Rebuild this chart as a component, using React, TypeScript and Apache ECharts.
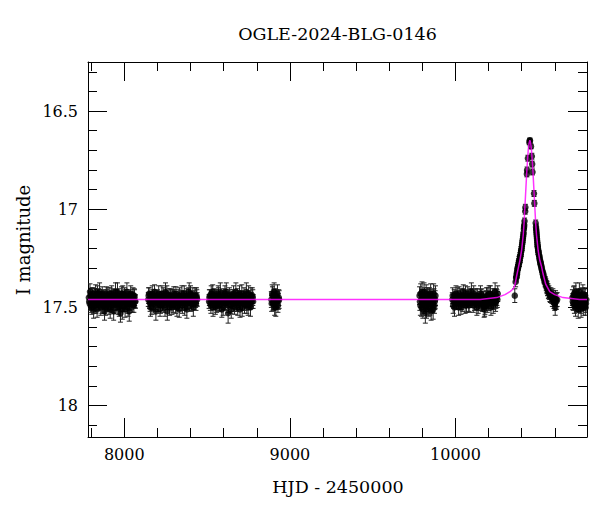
import { useEffect, useRef } from "react";
import * as echarts from "echarts";

// Observations: [HJD - 2450000, I magnitude, error]
const season2017: number[][] = [
  [7786, 17.45, 0.03], [7788, 17.47, 0.035], [7791, 17.48, 0.035], [7793, 17.42, 0.04], [7795, 17.44, 0.03],
  [7797, 17.49, 0.035], [7800, 17.47, 0.04], [7802, 17.45, 0.03], [7804, 17.5, 0.035], [7806, 17.44, 0.04],
  [7809, 17.43, 0.03], [7811, 17.48, 0.035], [7813, 17.46, 0.03], [7815, 17.51, 0.045], [7818, 17.49, 0.04],
  [7820, 17.46, 0.03], [7822, 17.45, 0.03], [7824, 17.44, 0.035], [7827, 17.42, 0.035], [7829, 17.49, 0.04],
  [7831, 17.47, 0.03], [7833, 17.45, 0.03], [7836, 17.51, 0.04], [7838, 17.43, 0.04], [7840, 17.46, 0.03],
  [7842, 17.48, 0.035], [7845, 17.44, 0.035], [7847, 17.46, 0.03], [7849, 17.48, 0.03], [7851, 17.42, 0.045],
  [7854, 17.45, 0.03], [7856, 17.47, 0.035], [7858, 17.5, 0.04], [7860, 17.45, 0.03], [7863, 17.47, 0.03],
  [7865, 17.49, 0.04], [7867, 17.43, 0.035], [7869, 17.46, 0.035], [7872, 17.46, 0.03], [7874, 17.44, 0.03],
  [7877, 17.49, 0.04], [7879, 17.47, 0.04], [7881, 17.52, 0.045], [7883, 17.45, 0.035], [7886, 17.45, 0.03],
  [7888, 17.5, 0.04], [7890, 17.47, 0.035], [7892, 17.43, 0.035], [7895, 17.44, 0.03], [7897, 17.46, 0.03],
  [7899, 17.48, 0.04], [7901, 17.44, 0.04], [7904, 17.46, 0.03], [7906, 17.48, 0.035], [7908, 17.5, 0.035],
  [7910, 17.46, 0.03], [7913, 17.43, 0.03], [7915, 17.51, 0.045], [7918, 17.47, 0.04], [7920, 17.45, 0.035],
  [7922, 17.45, 0.03], [7924, 17.43, 0.04], [7927, 17.49, 0.035], [7929, 17.47, 0.03], [7931, 17.46, 0.03],
  [7933, 17.44, 0.035], [7936, 17.52, 0.045], [7938, 17.49, 0.04], [7940, 17.44, 0.03], [7942, 17.46, 0.03],
  [7945, 17.48, 0.035], [7947, 17.42, 0.045], [7950, 17.45, 0.04], [7952, 17.48, 0.035], [7954, 17.47, 0.03],
  [7956, 17.45, 0.03], [7959, 17.42, 0.045], [7961, 17.47, 0.04], [7963, 17.5, 0.035], [7966, 17.44, 0.035],
  [7968, 17.46, 0.03], [7970, 17.5, 0.045], [7973, 17.48, 0.04], [7975, 17.46, 0.03], [7977, 17.53, 0.045],
  [7979, 17.48, 0.04], [7982, 17.45, 0.03], [7984, 17.43, 0.035], [7986, 17.47, 0.035], [7988, 17.51, 0.05],
  [7991, 17.43, 0.04], [7993, 17.45, 0.03], [7996, 17.49, 0.03], [7998, 17.47, 0.035], [8000, 17.46, 0.035],
  [8002, 17.44, 0.04], [8005, 17.51, 0.04], [8007, 17.48, 0.03], [8009, 17.44, 0.03], [8011, 17.46, 0.035],
  [8014, 17.47, 0.035], [8016, 17.42, 0.045], [8019, 17.45, 0.03], [8021, 17.49, 0.04], [8023, 17.5, 0.045],
  [8025, 17.45, 0.03], [8028, 17.46, 0.03], [8030, 17.52, 0.05], [8033, 17.48, 0.035], [8035, 17.46, 0.035],
  [8037, 17.44, 0.03], [8039, 17.43, 0.04], [8042, 17.47, 0.04], [8044, 17.48, 0.03], [8047, 17.45, 0.03],
  [8049, 17.46, 0.035], [8051, 17.49, 0.035], [8053, 17.44, 0.04], [8056, 17.46, 0.03], [8058, 17.49, 0.035],
  [8060, 17.44, 0.035], [8062, 17.45, 0.04], [8065, 17.47, 0.03], [8067, 17.47, 0.035],
];
const season2018: number[][] = [
  [8145, 17.46, 0.035], [8147, 17.44, 0.04], [8150, 17.43, 0.03], [8153, 17.47, 0.035], [8156, 17.48, 0.04],
  [8158, 17.5, 0.045], [8161, 17.45, 0.03], [8164, 17.46, 0.03], [8167, 17.5, 0.035], [8169, 17.43, 0.04],
  [8172, 17.44, 0.03], [8175, 17.48, 0.035], [8178, 17.47, 0.04], [8180, 17.45, 0.03], [8183, 17.42, 0.035],
  [8186, 17.47, 0.04], [8189, 17.49, 0.03], [8191, 17.52, 0.045], [8194, 17.46, 0.035], [8197, 17.45, 0.035],
  [8200, 17.44, 0.03], [8202, 17.47, 0.03], [8205, 17.48, 0.04], [8208, 17.43, 0.04], [8211, 17.45, 0.03],
  [8213, 17.46, 0.035], [8216, 17.51, 0.035], [8219, 17.49, 0.04], [8222, 17.47, 0.03], [8224, 17.45, 0.03],
  [8227, 17.43, 0.04], [8230, 17.48, 0.035], [8233, 17.46, 0.03], [8235, 17.44, 0.04], [8238, 17.49, 0.035],
  [8241, 17.47, 0.03], [8244, 17.45, 0.03], [8246, 17.5, 0.045], [8249, 17.42, 0.045], [8252, 17.45, 0.035],
  [8255, 17.47, 0.03], [8257, 17.43, 0.04], [8260, 17.52, 0.045], [8263, 17.48, 0.03], [8266, 17.46, 0.03],
  [8268, 17.46, 0.035], [8271, 17.44, 0.035], [8274, 17.5, 0.04], [8277, 17.48, 0.03], [8279, 17.44, 0.035],
  [8282, 17.45, 0.04], [8285, 17.47, 0.03], [8288, 17.5, 0.035], [8290, 17.45, 0.04], [8293, 17.47, 0.03],
  [8296, 17.49, 0.035], [8299, 17.43, 0.035], [8301, 17.44, 0.03], [8304, 17.46, 0.03], [8307, 17.47, 0.04],
  [8310, 17.49, 0.04], [8312, 17.43, 0.035], [8315, 17.45, 0.03], [8318, 17.5, 0.045], [8321, 17.47, 0.035],
  [8323, 17.46, 0.03], [8326, 17.44, 0.03], [8329, 17.48, 0.035], [8332, 17.51, 0.04], [8334, 17.44, 0.04],
  [8337, 17.46, 0.03], [8340, 17.47, 0.03], [8343, 17.48, 0.035], [8345, 17.45, 0.035], [8348, 17.43, 0.04],
  [8351, 17.49, 0.04], [8354, 17.47, 0.03], [8356, 17.46, 0.03], [8359, 17.45, 0.035], [8362, 17.43, 0.04],
  [8365, 17.5, 0.04], [8367, 17.48, 0.035], [8370, 17.46, 0.03], [8373, 17.45, 0.03], [8376, 17.44, 0.035],
  [8378, 17.51, 0.045], [8381, 17.48, 0.03], [8384, 17.47, 0.035], [8387, 17.45, 0.04], [8389, 17.44, 0.04],
  [8392, 17.42, 0.045], [8395, 17.46, 0.03], [8398, 17.47, 0.035], [8400, 17.43, 0.04], [8403, 17.49, 0.03],
  [8406, 17.48, 0.035], [8409, 17.46, 0.035], [8411, 17.45, 0.03], [8414, 17.44, 0.04], [8417, 17.5, 0.045],
  [8420, 17.48, 0.03], [8422, 17.46, 0.035], [8425, 17.45, 0.035], [8428, 17.44, 0.04], [8431, 17.47, 0.03],
  [8433, 17.48, 0.035], [8436, 17.44, 0.04], [8438, 17.45, 0.04], [8440, 17.46, 0.035],
];
const season2019: number[][] = [
  [8512, 17.47, 0.035], [8514, 17.45, 0.04], [8517, 17.44, 0.03], [8520, 17.48, 0.035], [8523, 17.49, 0.04],
  [8525, 17.43, 0.04], [8528, 17.45, 0.03], [8531, 17.47, 0.03], [8534, 17.42, 0.035], [8536, 17.5, 0.045],
  [8539, 17.48, 0.03], [8542, 17.44, 0.035], [8545, 17.46, 0.04], [8547, 17.47, 0.03], [8550, 17.5, 0.035],
  [8553, 17.45, 0.04], [8556, 17.44, 0.03], [8558, 17.49, 0.035], [8561, 17.47, 0.035], [8564, 17.46, 0.03],
  [8567, 17.43, 0.04], [8569, 17.44, 0.04], [8572, 17.49, 0.03], [8575, 17.48, 0.035], [8578, 17.46, 0.035],
  [8580, 17.42, 0.045], [8583, 17.45, 0.03], [8586, 17.47, 0.03], [8589, 17.51, 0.04], [8591, 17.45, 0.035],
  [8594, 17.47, 0.03], [8597, 17.5, 0.04], [8600, 17.44, 0.035], [8602, 17.46, 0.03], [8605, 17.48, 0.03],
  [8608, 17.43, 0.04], [8611, 17.45, 0.04], [8613, 17.48, 0.035], [8616, 17.42, 0.045], [8619, 17.45, 0.03],
  [8622, 17.47, 0.03], [8624, 17.47, 0.04], [8627, 17.53, 0.05], [8630, 17.49, 0.035], [8633, 17.46, 0.035],
  [8635, 17.44, 0.04], [8638, 17.44, 0.03], [8641, 17.47, 0.03], [8644, 17.49, 0.04], [8646, 17.51, 0.045],
  [8649, 17.45, 0.03], [8652, 17.46, 0.035], [8655, 17.47, 0.035], [8657, 17.44, 0.03], [8660, 17.43, 0.04],
  [8663, 17.48, 0.04], [8666, 17.5, 0.035], [8668, 17.45, 0.035], [8671, 17.46, 0.03], [8674, 17.42, 0.045],
  [8677, 17.48, 0.04], [8679, 17.47, 0.03], [8682, 17.44, 0.035], [8685, 17.5, 0.04], [8688, 17.47, 0.03],
  [8690, 17.46, 0.035], [8693, 17.45, 0.035], [8696, 17.43, 0.04], [8699, 17.51, 0.04], [8701, 17.48, 0.03],
  [8704, 17.46, 0.03], [8707, 17.45, 0.035], [8710, 17.43, 0.045], [8712, 17.5, 0.045], [8715, 17.48, 0.035],
  [8718, 17.46, 0.03], [8721, 17.45, 0.03], [8723, 17.44, 0.04], [8726, 17.49, 0.04], [8729, 17.48, 0.035],
  [8732, 17.46, 0.035], [8734, 17.45, 0.03], [8737, 17.42, 0.045], [8740, 17.49, 0.04], [8743, 17.47, 0.03],
  [8745, 17.46, 0.035], [8748, 17.5, 0.04], [8751, 17.43, 0.04], [8754, 17.45, 0.035], [8756, 17.47, 0.03],
  [8759, 17.48, 0.03], [8762, 17.5, 0.045], [8765, 17.44, 0.04], [8767, 17.46, 0.035], [8770, 17.47, 0.035],
  [8773, 17.44, 0.04], [8776, 17.45, 0.04], [8778, 17.47, 0.035],
];
const season2020: number[][] = [
  [8888, 17.46, 0.04], [8890, 17.48, 0.04], [8893, 17.43, 0.045], [8895, 17.44, 0.045], [8898, 17.48, 0.035],
  [8900, 17.47, 0.04], [8903, 17.45, 0.04], [8905, 17.42, 0.045], [8908, 17.5, 0.04], [8910, 17.46, 0.04],
  [8913, 17.44, 0.035], [8915, 17.5, 0.045], [8918, 17.47, 0.04], [8920, 17.45, 0.04], [8923, 17.46, 0.045],
  [8925, 17.43, 0.045], [8928, 17.49, 0.035], [8930, 17.47, 0.04], [8933, 17.45, 0.04], [8935, 17.46, 0.045],
];
const season2022: number[][] = [
  [9783, 17.44, 0.045], [9785, 17.47, 0.045], [9788, 17.49, 0.05], [9790, 17.43, 0.05], [9793, 17.46, 0.04],
  [9795, 17.5, 0.045], [9798, 17.42, 0.05], [9800, 17.45, 0.04], [9803, 17.51, 0.045], [9805, 17.48, 0.05],
  [9808, 17.47, 0.04], [9810, 17.42, 0.045], [9813, 17.45, 0.05], [9815, 17.49, 0.04], [9818, 17.53, 0.05],
  [9820, 17.46, 0.05], [9823, 17.43, 0.045], [9825, 17.51, 0.045], [9828, 17.48, 0.04], [9830, 17.44, 0.04],
  [9833, 17.46, 0.05], [9835, 17.47, 0.05], [9838, 17.5, 0.045], [9840, 17.45, 0.045], [9843, 17.44, 0.04],
  [9845, 17.5, 0.04], [9848, 17.47, 0.05], [9850, 17.43, 0.05], [9853, 17.52, 0.045], [9855, 17.48, 0.045],
  [9858, 17.45, 0.04], [9860, 17.46, 0.04], [9863, 17.48, 0.045], [9865, 17.51, 0.05], [9868, 17.43, 0.05],
  [9870, 17.45, 0.045], [9873, 17.49, 0.04], [9875, 17.47, 0.04], [9877, 17.46, 0.045], [9879, 17.44, 0.05],
];
const season2023: number[][] = [
  [9981, 17.46, 0.035], [9983, 17.44, 0.04], [9986, 17.49, 0.04], [9989, 17.47, 0.035], [9992, 17.44, 0.03],
  [9994, 17.5, 0.045], [9997, 17.47, 0.035], [10000, 17.45, 0.03], [10003, 17.43, 0.04], [10005, 17.47, 0.035],
  [10008, 17.48, 0.03], [10011, 17.44, 0.04], [10014, 17.45, 0.035], [10016, 17.48, 0.03], [10019, 17.5, 0.04],
  [10022, 17.43, 0.035], [10025, 17.46, 0.03], [10027, 17.47, 0.04], [10030, 17.44, 0.035], [10033, 17.5, 0.035],
  [10036, 17.48, 0.03], [10038, 17.46, 0.03], [10041, 17.45, 0.04], [10044, 17.48, 0.04], [10047, 17.42, 0.035],
  [10049, 17.44, 0.035], [10052, 17.47, 0.03], [10055, 17.46, 0.03], [10058, 17.49, 0.04], [10060, 17.43, 0.04],
  [10063, 17.45, 0.035], [10066, 17.49, 0.035], [10069, 17.47, 0.03], [10071, 17.46, 0.03], [10074, 17.43, 0.035],
  [10077, 17.45, 0.04], [10080, 17.48, 0.04], [10082, 17.49, 0.035], [10085, 17.46, 0.03], [10088, 17.47, 0.03],
  [10091, 17.44, 0.035], [10093, 17.45, 0.04], [10096, 17.42, 0.045], [10099, 17.44, 0.035], [10102, 17.47, 0.03],
  [10104, 17.46, 0.03], [10107, 17.49, 0.035], [10110, 17.43, 0.04], [10113, 17.45, 0.04], [10115, 17.48, 0.035],
  [10118, 17.47, 0.03], [10121, 17.46, 0.03], [10124, 17.44, 0.035], [10126, 17.47, 0.04], [10129, 17.5, 0.04],
  [10132, 17.44, 0.035], [10135, 17.46, 0.03], [10137, 17.49, 0.04], [10140, 17.48, 0.035], [10143, 17.46, 0.03],
  [10146, 17.45, 0.03], [10148, 17.48, 0.035], [10151, 17.43, 0.04], [10154, 17.45, 0.04], [10157, 17.47, 0.035],
  [10159, 17.44, 0.035], [10162, 17.49, 0.03], [10165, 17.48, 0.03], [10168, 17.46, 0.04], [10170, 17.46, 0.04],
  [10173, 17.51, 0.04], [10176, 17.5, 0.045], [10178, 17.49, 0.045], [10181, 17.47, 0.035], [10184, 17.45, 0.035],
  [10187, 17.44, 0.04], [10189, 17.47, 0.03], [10192, 17.49, 0.035], [10195, 17.44, 0.04], [10198, 17.45, 0.03],
  [10200, 17.48, 0.035], [10203, 17.43, 0.04], [10206, 17.46, 0.03], [10209, 17.47, 0.035], [10211, 17.43, 0.04],
  [10214, 17.5, 0.04], [10217, 17.47, 0.035], [10220, 17.46, 0.03], [10222, 17.45, 0.03], [10225, 17.44, 0.035],
  [10228, 17.49, 0.04], [10231, 17.47, 0.04], [10233, 17.44, 0.035], [10236, 17.45, 0.035], [10239, 17.42, 0.045],
  [10242, 17.48, 0.04], [10244, 17.47, 0.035], [10247, 17.44, 0.035], [10250, 17.45, 0.04], [10253, 17.46, 0.04],
  [10255, 17.43, 0.04],
];
const season2024: number[][] = [
  [10358, 17.44, 0.035], [10363, 17.37, 0.025], [10366, 17.35, 0.02], [10367, 17.345, 0.02], [10369, 17.34, 0.02],
  [10370, 17.33, 0.02], [10371, 17.32, 0.02], [10372, 17.33, 0.02], [10374, 17.31, 0.02], [10375, 17.3, 0.02],
  [10377, 17.3, 0.02], [10378, 17.29, 0.02], [10380, 17.29, 0.02], [10381, 17.28, 0.02], [10383, 17.27, 0.02],
  [10384, 17.26, 0.02], [10386, 17.27, 0.02], [10387, 17.26, 0.02], [10389, 17.25, 0.02], [10390, 17.24, 0.02],
  [10392, 17.24, 0.02], [10393, 17.23, 0.02], [10395, 17.22, 0.02], [10396, 17.21, 0.02], [10398, 17.21, 0.02],
  [10399, 17.2, 0.02], [10401, 17.19, 0.02], [10402, 17.18, 0.02], [10404, 17.17, 0.02], [10405, 17.16, 0.02],
  [10407, 17.15, 0.02], [10408, 17.14, 0.02], [10410, 17.13, 0.02], [10411, 17.12, 0.02], [10413, 17.1, 0.02],
  [10414, 17.09, 0.02], [10415, 17.08, 0.02], [10417, 17.06, 0.015], [10421, 17.01, 0.015], [10422, 16.99, 0.015],
  [10431, 16.82, 0.015], [10432, 16.8, 0.015], [10437, 16.74, 0.015], [10446, 16.66, 0.012], [10448, 16.65, 0.012],
  [10450, 16.65, 0.012], [10456, 16.68, 0.012], [10461, 16.73, 0.015], [10463, 16.77, 0.015], [10465, 16.81, 0.015],
  [10474, 16.92, 0.015], [10476, 16.97, 0.015], [10484, 17.07, 0.015], [10486, 17.09, 0.015], [10487, 17.1, 0.02],
  [10488, 17.11, 0.02], [10489, 17.12, 0.02], [10490, 17.13, 0.02], [10491, 17.14, 0.02], [10492, 17.15, 0.02],
  [10493, 17.16, 0.02], [10494, 17.17, 0.02], [10495, 17.18, 0.02], [10496, 17.19, 0.02], [10497, 17.19, 0.02],
  [10498, 17.2, 0.02], [10499, 17.21, 0.02], [10500, 17.21, 0.02], [10501, 17.22, 0.02], [10503, 17.23, 0.02],
  [10505, 17.235, 0.02], [10506, 17.24, 0.02], [10508, 17.25, 0.02], [10509, 17.26, 0.02], [10511, 17.265, 0.02],
  [10512, 17.27, 0.02], [10514, 17.275, 0.02], [10515, 17.28, 0.02], [10517, 17.285, 0.02], [10518, 17.29, 0.02],
  [10520, 17.3, 0.02], [10522, 17.31, 0.02], [10524, 17.315, 0.02], [10526, 17.32, 0.02], [10528, 17.33, 0.02],
  [10530, 17.34, 0.02], [10532, 17.345, 0.025], [10534, 17.35, 0.025], [10536, 17.355, 0.025], [10538, 17.36, 0.025],
  [10541, 17.37, 0.025], [10543, 17.37, 0.025], [10546, 17.38, 0.025], [10548, 17.39, 0.025], [10551, 17.395, 0.03],
  [10553, 17.4, 0.03], [10556, 17.41, 0.03], [10558, 17.41, 0.03], [10561, 17.425, 0.03], [10564, 17.42, 0.03],
  [10567, 17.43, 0.03], [10570, 17.44, 0.03], [10573, 17.445, 0.03], [10576, 17.43, 0.03], [10579, 17.44, 0.03],
  [10582, 17.45, 0.03], [10585, 17.46, 0.035], [10588, 17.44, 0.035], [10591, 17.45, 0.035], [10594, 17.47, 0.035],
  [10596, 17.46, 0.035], [10599, 17.48, 0.035], [10602, 17.5, 0.04], [10604, 17.45, 0.035], [10607, 17.46, 0.035],
  [10609, 17.47, 0.04], [10614, 17.46, 0.035],
];
const season2025: number[][] = [
  [10706, 17.45, 0.04], [10708, 17.47, 0.04], [10711, 17.48, 0.035], [10713, 17.44, 0.045], [10716, 17.43, 0.04],
  [10718, 17.49, 0.04], [10720, 17.47, 0.035], [10722, 17.45, 0.035], [10725, 17.5, 0.045], [10727, 17.42, 0.045],
  [10730, 17.44, 0.035], [10732, 17.48, 0.04], [10734, 17.46, 0.04], [10737, 17.46, 0.035], [10739, 17.49, 0.035],
  [10741, 17.51, 0.045], [10744, 17.45, 0.04], [10746, 17.47, 0.04], [10748, 17.42, 0.045], [10751, 17.44, 0.035],
  [10753, 17.47, 0.035], [10755, 17.49, 0.04], [10758, 17.51, 0.04], [10760, 17.45, 0.045], [10762, 17.46, 0.035],
  [10765, 17.47, 0.04], [10767, 17.44, 0.04], [10769, 17.43, 0.045], [10772, 17.48, 0.035], [10774, 17.5, 0.04],
  [10776, 17.45, 0.04], [10779, 17.46, 0.035], [10781, 17.47, 0.035], [10783, 17.44, 0.04], [10786, 17.5, 0.04],
  [10788, 17.48, 0.045], [10790, 17.46, 0.035],
];

// Microlensing model curve
const modelT = [
  7781, 10150, 10249, 10299, 10329, 10349, 10359, 10369, 10379, 10389, 10399, 10404, 10409, 10414, 10419, 10424,
  10429, 10434, 10439, 10444, 10449, 10454, 10459, 10464, 10469, 10474, 10479, 10484, 10489, 10494, 10499, 10509,
  10519, 10529, 10544, 10569, 10599, 10649, 10749, 10794,
];
const modelMag = [
  17.46, 17.46, 17.45, 17.435, 17.42, 17.405, 17.385, 17.34, 17.3, 17.26, 17.21, 17.17, 17.13, 17.07, 16.99, 16.91,
  16.83, 16.76, 16.7, 16.665, 16.648, 16.665, 16.7, 16.76, 16.83, 16.91, 16.99, 17.07, 17.13, 17.17, 17.21, 17.26,
  17.29, 17.33, 17.38, 17.42, 17.435, 17.45, 17.46, 17.46,
];

const xMajorTicks = [8000, 9000, 10000];
const xMinorTicks = [7800, 8200, 8400, 8600, 8800, 9200, 9400, 9600, 9800, 10200, 10400, 10600];
const yMajorTicks = [16.5, 17, 17.5, 18];
const yMinorTicks = [16.3, 16.4, 16.6, 16.7, 16.8, 16.9, 17.1, 17.2, 17.3, 17.4, 17.6, 17.7, 17.8, 17.9, 18.1];

const titleText = "OGLE-2024-BLG-0146";
const xName = "HJD - 2450000";
const yName = "I magnitude";

const X_MIN = 7781;
const X_MAX = 10794;
const Y_MIN = 16.25;
const Y_MAX = 18.16;
const FONT = '"DejaVu Serif", "Liberation Serif", serif';

function xAxis(position: string, ticks: number[], length: number, labels: boolean, line: boolean) {
  return {
    type: "value",
    min: X_MIN,
    max: X_MAX,
    position,
    axisLine: { show: line, onZero: false, lineStyle: { color: "#000", width: 1 } },
    axisTick: { show: true, inside: true, length, customValues: ticks, lineStyle: { color: "#000", width: 1 } },
    axisLabel: labels
      ? {
          show: true,
          customValues: ticks,
          margin: 9,
          color: "#000",
          fontFamily: FONT,
          fontSize: 16,
          formatter: (v: number) => String(v),
        }
      : { show: false },
    splitLine: { show: false },
  };
}

function yAxis(position: string, ticks: number[], length: number, labels: boolean, line: boolean) {
  return {
    type: "value",
    min: Y_MIN,
    max: Y_MAX,
    inverse: true,
    position,
    axisLine: { show: line, onZero: false, lineStyle: { color: "#000", width: 1 } },
    axisTick: { show: true, inside: true, length, customValues: ticks, lineStyle: { color: "#000", width: 1 } },
    axisLabel: labels
      ? {
          show: true,
          customValues: ticks,
          margin: 10,
          color: "#000",
          fontFamily: FONT,
          fontSize: 16,
          formatter: (v: number) => String(v),
        }
      : { show: false },
    splitLine: { show: false },
  };
}

export default function App() {
  const ref = useRef<HTMLDivElement>(null);

  useEffect(() => {
    if (!ref.current) return;
    const chart = echarts.init(ref.current, null, { renderer: "svg" });
    const obs = [
      ...season2017,
      ...season2018,
      ...season2019,
      ...season2020,
      ...season2022,
      ...season2023,
      ...season2024,
      ...season2025,
    ];
    const model = modelT.map((t, i) => [t, modelMag[i]]);

    chart.setOption({
      animation: false,
      backgroundColor: "#fff",
      grid: { left: 88, top: 62, width: 499, height: 375, containLabel: false, outerBoundsMode: "none" },
      xAxis: [
        xAxis("bottom", xMajorTicks, 19, true, true),
        xAxis("bottom", xMinorTicks, 9, false, false),
        xAxis("top", xMajorTicks, 19, false, true),
        xAxis("top", xMinorTicks, 9, false, false),
      ],
      yAxis: [
        yAxis("left", yMajorTicks, 19, true, true),
        yAxis("left", yMinorTicks, 9, false, false),
        yAxis("right", yMajorTicks, 19, false, true),
        yAxis("right", yMinorTicks, 9, false, false),
      ],
      graphic: [
        {
          type: "text",
          x: 337.5,
          y: 34,
          style: { text: titleText, font: `17.5px ${FONT}`, fill: "#000", textAlign: "center", textVerticalAlign: "middle" },
        },
        {
          type: "text",
          x: 338,
          y: 487,
          style: { text: xName, font: `17.5px ${FONT}`, fill: "#000", textAlign: "center", textVerticalAlign: "middle" },
        },
        {
          type: "text",
          x: 23,
          y: 240,
          rotation: Math.PI / 2,
          style: { text: yName, font: `18px ${FONT}`, fill: "#000", textAlign: "center", textVerticalAlign: "middle" },
        },
      ],
      series: [
        {
          type: "custom",
          xAxisIndex: 0,
          yAxisIndex: 0,
          data: obs,
          clip: true,
          silent: true,
          z: 2,
          encode: { x: 0, y: 1 },
          renderItem: (_params: any, api: any) => {
            const t = api.value(0);
            const m = api.value(1);
            const e = api.value(2);
            const a = api.coord([t, m - e]);
            const b = api.coord([t, m + e]);
            const hw = 2.5;
            const st = { stroke: "#222", lineWidth: 1 };
            return {
              type: "group",
              children: [
                { type: "line", shape: { x1: a[0], y1: a[1], x2: b[0], y2: b[1] }, style: st },
                { type: "line", shape: { x1: a[0] - hw, y1: a[1], x2: a[0] + hw, y2: a[1] }, style: st },
                { type: "line", shape: { x1: b[0] - hw, y1: b[1], x2: b[0] + hw, y2: b[1] }, style: st },
              ],
            };
          },
        },
        {
          type: "scatter",
          xAxisIndex: 0,
          yAxisIndex: 0,
          data: obs.map((d) => [d[0], d[1]]),
          symbol: "circle",
          symbolSize: 6.5,
          itemStyle: { color: "#000" },
          silent: true,
          z: 3,
        },
        {
          type: "line",
          xAxisIndex: 0,
          yAxisIndex: 0,
          data: model,
          showSymbol: false,
          symbol: "none",
          lineStyle: { color: "#ff00ff", width: 1.5, opacity: 0.8 },
          silent: true,
          z: 4,
        },
      ],
    });
    return () => chart.dispose();
  }, []);

  return (
    <div
      ref={ref}
      style={{ position: "fixed", left: 0, top: 0, width: 600, height: 512, background: "#fff" }}
    />
  );
}
